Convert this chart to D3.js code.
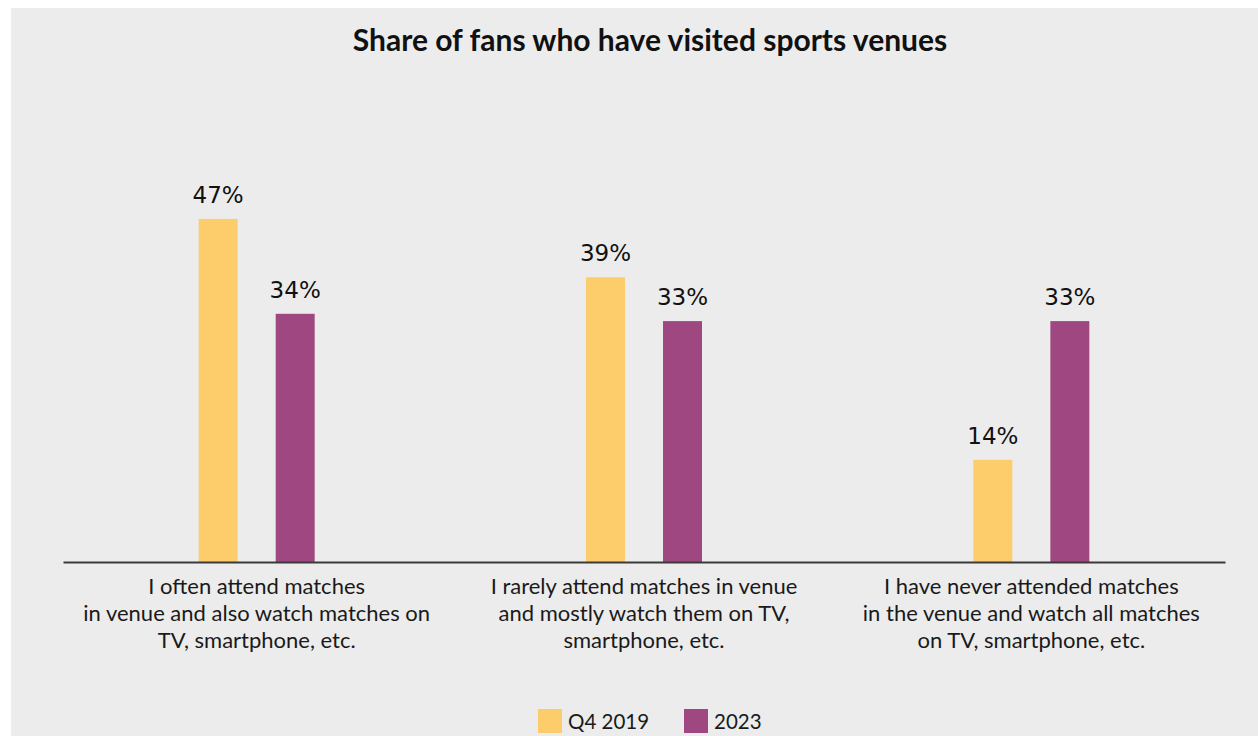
<!DOCTYPE html>
<html>
<head>
<meta charset="utf-8">
<script src="https://cdn.jsdelivr.net/npm/d3@7"></script>
<style>
    body { margin: 0; background: #ffffff; }
    svg { display: block; }
</style>
</head>
<body>
<svg id="chart" width="1258" height="736"></svg>
<script>
// data
const categories = [
    ['I often attend matches', 'in venue and also watch matches on', 'TV, smartphone, etc.'],
    ['I rarely attend matches in venue', 'and mostly watch them on TV,', 'smartphone, etc.'],
    ['I have never attended matches', 'in the venue and watch all matches', 'on TV, smartphone, etc.']
]
const seriesNames = ['Q4 2019', '2023']
const q4_2019 = [47, 39, 14]
const y2023 = [34, 33, 33]
const seriesColors = ['#fecd6b', '#9f4781']

const svg = d3.select('#chart')
const DIM = {
    width: 1258,
    height: 736,
    panel_x: 11,
    panel_y: 8,
    axis_left: 63,
    axis_right: 1225,
    baseline: 562
}

// grey panel
svg.append('rect')
    .attr('x', DIM.panel_x)
    .attr('y', DIM.panel_y)
    .attr('width', DIM.width - DIM.panel_x)
    .attr('height', DIM.height - DIM.panel_y)
    .attr('fill', '#ececec')

svg.append('text')
    .attr('x', 650)
    .attr('y', 51)
    .attr('text-anchor', 'middle')
    .style('font-family', 'Lato, sans-serif')
    .style('font-weight', 'bold')
    .style('font-size', '30px')
    .attr('fill', '#111')
    .text('Share of fans who have visited sports venues')

const rows = categories.map((c, i) => ({
    idx: i,
    label: c,
    values: [q4_2019[i], y2023[i]]
}))

const x0 = d3.scaleBand()
    .domain(rows.map(d => d.idx))
    .range([DIM.axis_left, DIM.axis_right])

// the pair of bars sits in the middle 116px of each band
const pairWidth = 116
const x1 = d3.scaleBand()
    .domain(d3.range(seriesNames.length))
    .range([(x0.bandwidth() - pairWidth) / 2, (x0.bandwidth() + pairWidth) / 2])
    .paddingInner(0.494)

const y = d3.scaleLinear()
    .domain([0, 100])
    .range([DIM.baseline, DIM.baseline - 730])

const groups = svg.selectAll('.group')
    .data(rows)
    .join('g')
    .attr('class', 'group')
    .attr('transform', d => `translate(${x0(d.idx)}, 0)`)

groups.selectAll('.bar')
    .data(d => d.values.map((v, j) => ({ s: j, v: v })))
    .join('rect')
    .attr('class', 'bar')
    .attr('x', d => x1(d.s))
    .attr('y', d => y(d.v))
    .attr('width', x1.bandwidth())
    .attr('height', d => y(0) - y(d.v))
    .attr('fill', d => seriesColors[d.s])

groups.selectAll('.value-label')
    .data(d => d.values.map((v, j) => ({ s: j, v: v })))
    .join('text')
    .attr('class', 'value-label')
    .attr('x', d => x1(d.s) + x1.bandwidth() / 2)
    .attr('y', d => y(d.v) - 16)
    .attr('text-anchor', 'middle')
    .style('font-family', 'DejaVu Sans, sans-serif')
    .style('font-size', '23px')
    .attr('fill', '#111')
    .text(d => d.v + '%')

// baseline axis
const xAxis = d3.axisBottom(x0).tickSize(0).tickFormat('')
const axisG = svg.append('g')
    .attr('transform', `translate(0, ${DIM.baseline})`)
    .call(xAxis)
axisG.select('.domain')
    .attr('stroke', '#3a3a3a')
    .attr('stroke-width', 2)

// wrapped category labels
groups.append('text')
    .attr('class', 'cat-label')
    .attr('x', x0.bandwidth() / 2)
    .attr('y', DIM.baseline + 32)
    .attr('text-anchor', 'middle')
    .style('font-family', 'Lato, sans-serif')
    .style('font-size', '22px')
    .attr('fill', '#1a1a1a')
    .selectAll('tspan')
    .data(d => d.label)
    .join('tspan')
    .attr('x', x0.bandwidth() / 2)
    .attr('dy', (d, i) => i === 0 ? 0 : 27)
    .text(d => d)

// legend
const legendItems = [
    { name: seriesNames[0], color: seriesColors[0], x: 538 },
    { name: seriesNames[1], color: seriesColors[1], x: 684 }
]
const legend = svg.selectAll('.legend')
    .data(legendItems)
    .join('g')
    .attr('class', 'legend')
    .attr('transform', d => `translate(${d.x}, 709)`)
legend.append('rect')
    .attr('width', 24)
    .attr('height', 24)
    .attr('fill', d => d.color)
legend.append('text')
    .attr('x', 30)
    .attr('y', 20)
    .style('font-family', 'Lato, sans-serif')
    .style('font-size', '20.5px')
    .attr('fill', '#1a1a1a')
    .text(d => d.name)
</script>
</body>
</html>
